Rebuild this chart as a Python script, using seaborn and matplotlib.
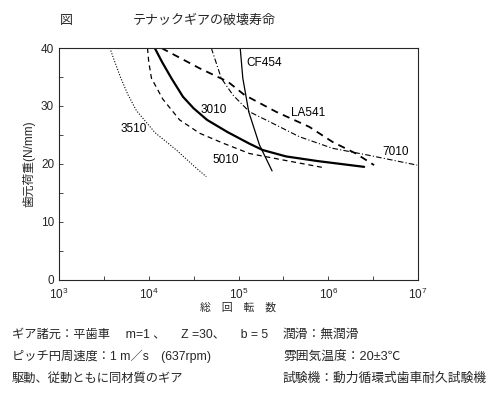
import numpy as np
import pandas as pd
import matplotlib
matplotlib.use("Agg")
import matplotlib.pyplot as plt
import matplotlib.ticker as mticker
import seaborn as sns

# Values: log10(total revolutions) vs tooth root load (N/mm)
s3510_logn = [3.567, 3.622, 3.689, 3.77, 3.863, 4.07, 4.308, 4.492, 4.641]
s3510_load = [40.0, 37.6, 34.8, 31.9, 29.2, 25.4, 22.4, 19.8, 17.8]

s5010_logn = [3.986, 4.0, 4.03, 4.156, 4.344, 4.567, 4.826, 5.122, 5.492, 5.937]
s5010_load = [40.0, 37.6, 34.8, 31.2, 27.6, 25.3, 23.6, 21.8, 20.7, 19.4]

s3010_logn = [4.067, 4.148, 4.252, 4.381, 4.50, 4.65, 4.878, 5.122, 5.27, 5.53, 5.881, 6.40]
s3010_load = [40.0, 37.6, 34.8, 31.6, 29.6, 27.6, 25.5, 23.5, 22.4, 21.3, 20.5, 19.5]

cf454_logn = [5.019, 5.048, 5.114, 5.233, 5.374]
cf454_load = [40.0, 34.8, 29.0, 23.3, 18.8]

la541_logn = [4.141, 4.567, 4.881, 5.067, 5.419, 5.789, 6.048, 6.308, 6.511]
la541_load = [40.0, 36.5, 34.2, 31.9, 29.0, 26.4, 23.8, 21.8, 19.8]

s7010_logn = [4.697, 4.808, 4.937, 5.122, 5.344, 5.678, 6.048, 6.419, 6.99]
s7010_load = [40.0, 34.8, 31.9, 29.0, 27.3, 24.7, 22.7, 21.6, 19.8]

series = {
    "3510": (s3510_logn, s3510_load),
    "5010": (s5010_logn, s5010_load),
    "3010": (s3010_logn, s3010_load),
    "CF454": (cf454_logn, cf454_load),
    "LA541": (la541_logn, la541_load),
    "7010": (s7010_logn, s7010_load),
}

styles = {
    "3510": dict(linestyle=(0, (1, 1.5)), linewidth=0.8),
    "5010": dict(linestyle=(0, (4, 3)), linewidth=0.9),
    "3010": dict(linestyle="-", linewidth=1.6),
    "CF454": dict(linestyle="-", linewidth=0.9),
    "LA541": dict(linestyle=(0, (4, 3)), linewidth=1.3),
    "7010": dict(linestyle=(0, (5, 2, 1, 2)), linewidth=0.8),
}

# label positions: (log10 n, load)
label_pos = {
    "3510": (3.689, 26.0),
    "5010": (4.711, 20.7),
    "3010": (4.578, 29.3),
    "CF454": (5.089, 37.4),
    "LA541": (5.589, 28.8),
    "7010": (6.60, 22.1),
}

sns.set_style("ticks")
plt.rcParams["font.family"] = ["Liberation Sans", "Noto Sans CJK JP", "DejaVu Sans"]

fig = plt.figure(figsize=(5.0, 3.97), dpi=100)
ax = fig.add_axes([0.118, 0.295, 0.718, 0.584])

for name, (logn, load) in series.items():
    df = pd.DataFrame({"n": 10 ** np.array(logn), "load": load})
    sns.lineplot(data=df, x="n", y="load", ax=ax, color="black",
                 estimator=None, sort=False, **styles[name])
    lx, ly = label_pos[name]
    ax.text(10 ** lx, ly, name, fontsize=8.5, color="black", va="center", ha="left")

ax.set_xscale("log")
ax.set_xlim(1e3, 1e7)
ax.set_ylim(0, 40)
ax.set_yticks([0, 10, 20, 30, 40])
ax.yaxis.set_minor_locator(mticker.MultipleLocator(5))
ax.xaxis.set_major_locator(mticker.LogLocator(base=10, numticks=10))
ax.xaxis.set_minor_locator(mticker.FixedLocator(10 ** np.arange(3.5, 7, 1.0)))
ax.tick_params(which="both", direction="in", labelsize=8.5, length=3, width=0.6)
ax.tick_params(axis="x", pad=5)
for sp in ax.spines.values():
    sp.set_linewidth(0.8)

ax.set_xlabel("総　回　転　数", fontsize=7.8, labelpad=0)
ax.set_ylabel("歯元荷重(N/mm)", fontsize=8.5, labelpad=4)

fig.text(0.12, 0.94, "図", fontsize=9.4)
fig.text(0.265, 0.94, "テナックギアの破壊寿命", fontsize=9.4)

fs = 8.8
fig.text(0.024, 0.148, "ギア諸元：平歯車　 m=1 、　 Z =30、　 b = 5", fontsize=fs)
fig.text(0.024, 0.093, "ピッチ円周速度：1 m／s　(637rpm)", fontsize=fs)
fig.text(0.024, 0.038, "駆動、従動ともに同材質のギア", fontsize=fs)
fig.text(0.566, 0.148, "潤滑：無潤滑", fontsize=9.2)
fig.text(0.566, 0.093, "雰囲気温度：20±3℃", fontsize=9.2)
fig.text(0.566, 0.038, "試験機：動力循環式歯車耐久試験機", fontsize=9.2)

fig.savefig("out.png", dpi=100)
